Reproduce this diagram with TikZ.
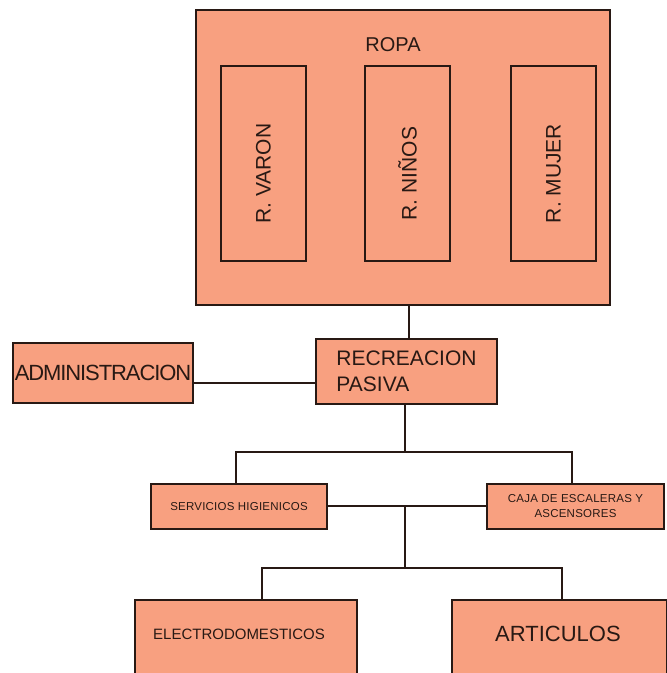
\documentclass[tikz,border=0pt]{standalone}
\usepackage{fontspec}
\setmainfont{Liberation Sans}
\definecolor{salmon}{RGB}{248,160,128}
\definecolor{edge}{RGB}{40,25,20}
\tikzset{
  box/.style={draw=edge, line width=1.6pt, fill=salmon, inner sep=0pt, text=edge},
  link/.style={draw=edge, line width=1.6pt},
  vlabel/.style={rotate=90, text=edge, font=\fontsize{21}{22}\selectfont},
}
\begin{document}
\begin{tikzpicture}[x=1pt,y=-1pt]
\useasboundingbox (0,0) rectangle (667,673);
\clip (0,0) rectangle (667,673);
% ROPA
\node[box, minimum width=414pt, minimum height=295pt] (ropa) at (403,157.5) {};
\node[text=edge, font=\fontsize{20}{22}\selectfont] (ropat) at (393,45) {ROPA};
\node[box, fill=none, minimum width=85pt, minimum height=195pt] (varon) at (263.5,163.5) {};
\node[box, fill=none, minimum width=85pt, minimum height=195pt] (ninos) at (407.5,163.5) {};
\node[box, fill=none, minimum width=85pt, minimum height=195pt] (mujer) at (553.5,163.5) {};
\node[vlabel] at ([yshift=-10pt]varon.center) {R. VARON};
\node[vlabel] at ([yshift=-10pt]ninos.center) {R. NIÑOS};
\node[vlabel] at ([yshift=-10pt]mujer.center) {R. MUJER};
% middle row
\node[box, minimum width=181pt, minimum height=65pt, align=left,
      font=\fontsize{21}{26}\selectfont] (rec) at (406.5,371.5) {RECREACION\\PASIVA};
\node[box, minimum width=180pt, minimum height=60pt,
      font=\fontsize{22}{24}\selectfont] (admin) at (103,373) {\addfontfeature{LetterSpace=-5}ADMINISTRACION};
% third row
\node[box, minimum width=176pt, minimum height=45pt,
      font=\fontsize{11.5}{13}\selectfont] (serv) at (239,506.5) {\addfontfeature{LetterSpace=2}SERVICIOS HIGIENICOS};
\node[box, minimum width=177pt, minimum height=45pt, align=center,
      font=\fontsize{11.5}{15}\selectfont] (caja) at (575.5,506.5) {\addfontfeature{LetterSpace=2}CAJA DE ESCALERAS Y\\\addfontfeature{LetterSpace=2}ASCENSORES};
% bottom row
\node[box, minimum width=222pt, minimum height=80pt] (elec) at (246,640) {};
\node[text=edge, font=\fontsize{15}{17}\selectfont] at (239,634) {ELECTRODOMESTICOS};
\node[box, minimum width=215pt, minimum height=80pt] (art) at (559.5,640) {};
\node[text=edge, font=\fontsize{22}{24}\selectfont] at (558,634) {ARTICULOS};
% connectors
\coordinate (j1) at (405,452);
\coordinate (j2) at (405,506);
\coordinate (j3) at (405,568);
\draw[link] (ropa.south -| 409,0) -- (rec.north -| 409,0);
\draw[link] (admin.east |- 0,383) -- (rec.west |- 0,383);
\draw[link] (rec.south -| j1) -- (j1);
\draw[link] ([xshift=-3pt]serv.north) |- (j1) -| ([xshift=-3.5pt]caja.north);
\draw[link] (serv.east |- j2) -- (caja.west |- j2);
\draw[link] (j2) -- (j3);
\draw[link] ([xshift=16pt]elec.north) |- (j3) -| ([xshift=2.5pt]art.north);
\end{tikzpicture}
\end{document}
